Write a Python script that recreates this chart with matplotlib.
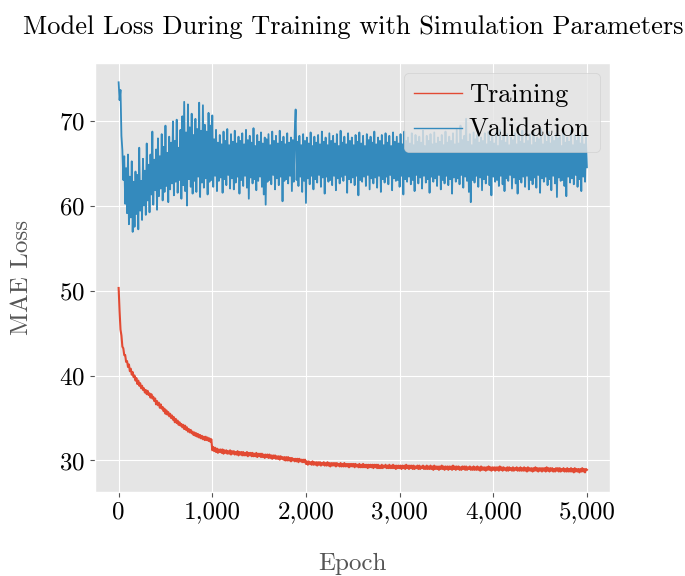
import numpy as np
import matplotlib
matplotlib.use('Agg')
import matplotlib.pyplot as plt
from matplotlib.ticker import StrMethodFormatter

plt.style.use('ggplot')
plt.rcParams['font.family'] = ['cmr10', 'DejaVu Serif']
plt.rcParams['mathtext.fontset'] = 'cm'
plt.rcParams['axes.unicode_minus'] = False
plt.rcParams['axes.formatter.use_mathtext'] = True
# keep every wiggle of the noisy curves
plt.rcParams['path.simplify'] = False

# epochs sampled every 10
epochs = np.arange(0, 5001, 10)

training_loss = [
    50.3, 47.6, 45.4, 44.7, 43.4, 43.2, 42.4, 42.4, 41.6, 41.7,
    41.0, 41.3, 40.5, 40.8, 40.1, 40.4, 39.8, 40.0, 39.4, 39.7,
    39.0, 39.4, 38.8, 39.1, 38.5, 38.8, 38.3, 38.5, 38.0, 38.3,
    37.8, 38.2, 37.7, 37.9, 37.4, 37.8, 37.3, 37.5, 37.0, 37.3,
    36.6, 37.0, 36.5, 36.8, 36.2, 36.6, 36.1, 36.3, 35.8, 36.1,
    35.5, 35.9, 35.4, 35.7, 35.2, 35.5, 35.0, 35.3, 34.8, 35.1,
    34.5, 34.9, 34.4, 34.7, 34.2, 34.5, 34.1, 34.3, 33.9, 34.2,
    33.7, 34.1, 33.6, 33.9, 33.4, 33.7, 33.3, 33.6, 33.2, 33.4,
    33.0, 33.3, 32.9, 33.2, 32.8, 33.1, 32.7, 33.0, 32.6, 32.9,
    32.5, 32.8, 32.4, 32.8, 32.4, 32.7, 32.3, 32.6, 32.2, 32.5,
    31.2, 31.6, 31.1, 31.5, 31.0, 31.4, 30.9, 31.3, 31.0, 31.3,
    30.9, 31.3, 30.8, 31.2, 30.9, 31.2, 30.8, 31.1, 30.8, 31.2,
    30.7, 31.1, 30.8, 31.1, 30.7, 31.0, 30.7, 31.1, 30.6, 31.0,
    30.7, 31.0, 30.6, 31.0, 30.6, 30.9, 30.6, 31.0, 30.5, 30.9,
    30.6, 30.9, 30.5, 30.9, 30.5, 30.8, 30.5, 30.9, 30.4, 30.8,
    30.5, 30.8, 30.4, 30.8, 30.4, 30.7, 30.3, 30.7, 30.4, 30.7,
    30.3, 30.7, 30.3, 30.6, 30.2, 30.6, 30.3, 30.6, 30.2, 30.5,
    30.2, 30.5, 30.1, 30.5, 30.2, 30.4, 30.1, 30.4, 30.0, 30.4,
    30.0, 30.4, 30.0, 30.3, 29.9, 30.3, 30.0, 30.2, 29.9, 30.2,
    29.9, 30.2, 29.8, 30.2, 29.9, 30.1, 29.8, 30.1, 29.8, 30.1,
    29.6, 29.9, 29.5, 29.9, 29.6, 29.8, 29.5, 29.9, 29.5, 29.8,
    29.5, 29.8, 29.4, 29.8, 29.5, 29.8, 29.4, 29.7, 29.5, 29.8,
    29.4, 29.7, 29.4, 29.8, 29.4, 29.7, 29.3, 29.7, 29.4, 29.7,
    29.4, 29.7, 29.3, 29.7, 29.4, 29.6, 29.3, 29.7, 29.3, 29.6,
    29.3, 29.7, 29.3, 29.6, 29.3, 29.6, 29.2, 29.6, 29.3, 29.6,
    29.3, 29.6, 29.2, 29.6, 29.3, 29.5, 29.2, 29.6, 29.2, 29.5,
    29.2, 29.6, 29.2, 29.5, 29.2, 29.5, 29.1, 29.5, 29.2, 29.5,
    29.2, 29.5, 29.1, 29.5, 29.2, 29.5, 29.1, 29.5, 29.1, 29.4,
    29.1, 29.5, 29.1, 29.4, 29.2, 29.5, 29.1, 29.4, 29.1, 29.5,
    29.1, 29.4, 29.1, 29.5, 29.1, 29.4, 29.0, 29.4, 29.1, 29.4,
    29.1, 29.4, 29.0, 29.4, 29.1, 29.4, 29.0, 29.5, 29.1, 29.4,
    29.0, 29.4, 29.1, 29.4, 29.0, 29.4, 29.0, 29.3, 29.1, 29.4,
    29.0, 29.4, 29.0, 29.3, 29.1, 29.4, 29.0, 29.3, 29.0, 29.4,
    29.0, 29.3, 29.0, 29.4, 29.0, 29.3, 28.9, 29.4, 29.0, 29.3,
    29.0, 29.3, 28.9, 29.3, 29.0, 29.4, 29.0, 29.3, 28.9, 29.3,
    29.0, 29.3, 28.9, 29.3, 29.0, 29.3, 28.9, 29.4, 29.0, 29.3,
    28.9, 29.3, 29.0, 29.3, 28.9, 29.2, 28.9, 29.3, 29.0, 29.3,
    28.9, 29.3, 28.9, 29.2, 29.0, 29.3, 28.9, 29.2, 28.9, 29.3,
    28.9, 29.2, 28.9, 29.3, 28.9, 29.2, 28.8, 29.3, 28.9, 29.2,
    28.9, 29.2, 28.8, 29.2, 28.9, 29.3, 28.9, 29.2, 28.8, 29.2,
    28.9, 29.2, 28.8, 29.2, 28.9, 29.2, 28.8, 29.3, 28.9, 29.2,
    28.8, 29.2, 28.9, 29.1, 28.8, 29.2, 28.8, 29.2, 28.9, 29.1,
    28.8, 29.2, 28.8, 29.1, 28.9, 29.2, 28.8, 29.1, 28.8, 29.2,
    28.8, 29.1, 28.8, 29.2, 28.8, 29.1, 28.7, 29.2, 28.8, 29.1,
    28.8, 29.1, 28.7, 29.1, 28.8, 29.2, 28.8, 29.1, 28.7, 29.1,
    28.8, 29.1, 28.7, 29.1, 28.8, 29.1, 28.7, 29.2, 28.8, 29.1,
    28.7, 29.1, 28.8, 29.1, 28.7, 29.0, 28.7, 29.1, 28.8, 29.1,
    28.7, 29.1, 28.7, 29.0, 28.8, 29.1, 28.7, 29.0, 28.7, 29.1,
    28.7, 29.0, 28.7, 29.1, 28.7, 29.0, 28.6, 29.1, 28.7, 29.0,
    28.7, 29.0, 28.6, 29.0, 28.7, 29.1, 28.7, 29.0, 28.6, 29.0,
    28.9,
]

validation_loss = [
    74.5, 72.4, 73.6, 68.2, 66.5, 63.0, 65.8, 60.2, 64.4, 59.1,
    66.0, 57.8, 63.4, 58.6, 65.2, 56.9, 62.8, 57.5, 64.0, 59.0,
    63.6, 57.2, 66.8, 59.4, 62.9, 58.3, 65.5, 60.0, 64.1, 58.9,
    67.3, 60.6, 64.8, 59.2, 66.0, 61.3, 68.7, 60.1, 65.4, 61.8,
    66.6, 59.5, 67.9, 61.1, 65.8, 62.0, 68.4, 60.6, 66.9, 61.6,
    69.4, 62.3, 66.2, 60.4, 68.1, 61.9, 67.4, 62.6, 69.9, 61.2,
    67.6, 62.8, 70.1, 61.5, 66.8, 63.0, 68.9, 60.8, 70.5, 62.4,
    72.2, 61.7, 68.6, 60.0, 71.9, 63.1, 69.2, 62.2, 70.8, 61.4,
    68.3, 62.9, 70.2, 61.6, 69.0, 63.4, 72.1, 61.0, 68.8, 62.7,
    71.8, 62.1, 69.5, 63.2, 68.7, 61.3, 70.9, 62.8, 69.4, 63.0,
    70.6, 62.2, 67.8, 63.5, 68.9, 61.7, 67.4, 62.9, 68.3, 63.3,
    67.2, 61.5, 68.7, 63.1, 67.6, 62.4, 69.0, 63.6, 67.1, 62.0,
    68.4, 63.2, 67.5, 61.9, 68.8, 62.7, 67.3, 63.4, 68.1, 61.4,
    67.6, 63.0, 68.5, 62.3, 67.2, 63.5, 68.9, 62.1, 67.7, 60.8,
    68.2, 63.3, 67.4, 62.6, 69.1, 63.1, 67.0, 61.8, 68.3, 62.9,
    67.5, 63.4, 68.6, 62.2, 67.3, 61.3, 68.0, 60.1, 67.8, 62.8,
    68.4, 63.0, 67.1, 62.5, 68.7, 63.6, 67.6, 61.9, 68.2, 63.2,
    67.3, 62.4, 68.8, 63.4, 67.5, 60.5, 68.1, 62.9, 67.2, 63.1,
    68.5, 62.6, 67.4, 63.5, 68.0, 61.7, 67.7, 62.8, 68.6, 71.3,
    63.0, 67.5, 62.3, 68.2, 63.4, 67.1, 61.6, 68.4, 62.9, 67.6,
    60.3, 68.0, 63.2, 67.3, 62.5, 68.6, 63.5, 67.0, 61.9, 68.1,
    63.1, 67.4, 62.7, 68.3, 63.6, 67.2, 62.2, 68.7, 63.3, 67.5,
    61.4, 68.0, 63.4, 67.1, 62.8, 68.5, 63.0, 67.6, 62.4, 68.2,
    63.5, 67.3, 61.8, 68.4, 63.2, 67.0, 62.6, 68.8, 63.4, 67.4,
    62.9, 68.1, 63.6, 67.2, 61.5, 68.5, 63.1, 67.6, 62.7, 68.0,
    63.3, 67.1, 62.4, 68.3, 63.5, 67.5, 61.2, 68.6, 63.0, 67.3,
    62.8, 68.2, 63.4, 67.0, 62.3, 68.4, 63.6, 67.7, 61.9, 68.1,
    63.2, 67.4, 62.6, 68.7, 63.3, 67.2, 62.1, 68.0, 63.5, 67.6,
    61.6, 68.3, 63.1, 67.1, 62.7, 68.5, 63.4, 67.4, 62.5, 68.2,
    63.6, 67.0, 61.8, 68.6, 63.2, 67.5, 62.9, 68.1, 63.0, 67.3,
    62.2, 68.4, 63.5, 67.2, 61.3, 68.7, 63.1, 67.6, 62.8, 68.0,
    63.4, 67.3, 62.5, 68.5, 63.0, 67.1, 61.7, 68.3, 63.6, 67.5,
    62.6, 68.1, 63.3, 67.4, 62.0, 68.8, 63.5, 67.0, 62.7, 68.2,
    63.1, 67.6, 61.5, 68.4, 63.4, 67.2, 62.8, 68.6, 63.2, 67.3,
    62.3, 68.0, 63.6, 67.5, 61.9, 68.3, 63.0, 67.1, 62.6, 68.7,
    63.5, 67.4, 62.4, 68.1, 63.1, 67.6, 61.4, 68.5, 63.3, 67.2,
    62.8, 68.9, 63.2, 67.3, 62.5, 69.4, 63.6, 67.7, 62.1, 68.2,
    63.4, 70.2, 62.9, 67.5, 61.6, 68.4, 60.4, 67.1, 63.0, 68.6,
    62.7, 67.8, 63.5, 68.3, 62.2, 67.4, 63.3, 68.0, 61.8, 67.6,
    63.1, 68.5, 62.6, 67.2, 63.6, 68.7, 62.4, 67.5, 61.2, 68.1,
    63.4, 67.3, 62.8, 68.6, 63.0, 67.0, 62.3, 68.9, 63.5, 67.6,
    62.5, 68.2, 61.7, 67.4, 63.2, 68.4, 62.9, 67.1, 63.6, 68.0,
    62.0, 67.7, 63.3, 68.5, 62.6, 67.2, 61.4, 68.3, 63.1, 67.5,
    62.7, 68.8, 63.4, 67.3, 62.2, 68.1, 63.5, 67.6, 61.9, 68.4,
    63.0, 67.1, 62.5, 68.6, 63.3, 67.4, 62.1, 68.0, 63.6, 67.8,
    61.5, 69.0, 63.2, 67.2, 62.8, 68.3, 63.4, 67.5, 62.4, 68.7,
    63.1, 67.3, 61.8, 68.1, 63.5, 67.6, 62.6, 68.4, 61.0, 67.9,
    63.3, 68.2, 62.9, 67.0, 63.0, 68.6, 62.3, 67.4, 61.1, 68.0,
    63.4, 67.5, 62.7, 68.8, 63.2, 67.1, 62.5, 68.3, 63.6, 67.6,
    62.2, 68.1, 63.1, 67.3, 61.7, 68.5, 63.4, 67.2, 62.8, 68.0,
    64.5,
]

fig, ax = plt.subplots(figsize=(6.85, 5.76), dpi=100)
plt.subplots_adjust(left=0.139, right=0.891, bottom=0.146, top=0.891)

ax.plot(epochs, training_loss, color='#E24A33', linewidth=1.5, label='Training')
ax.plot(epochs, validation_loss, color='#348ABD', linewidth=1.3, label='Validation')

ax.set_title('Model Loss During Training with Simulation Parameters', fontsize=19, pad=21)
ax.set_xlabel('Epoch', fontsize=18, labelpad=21)
ax.set_ylabel('MAE Loss', fontsize=18, labelpad=19)
ax.xaxis.set_major_formatter(StrMethodFormatter('{x:,.0f}'))
ax.tick_params(labelsize=18, labelcolor='black')
leg = ax.legend(loc='upper right', fontsize=19, framealpha=0.8, handlelength=1.8,
                borderpad=0.4, labelspacing=0.42, handletextpad=0.27, borderaxespad=0.38)
for line in leg.get_lines():
    line.set_linewidth(1.0)

plt.savefig('out.png', dpi=100)
